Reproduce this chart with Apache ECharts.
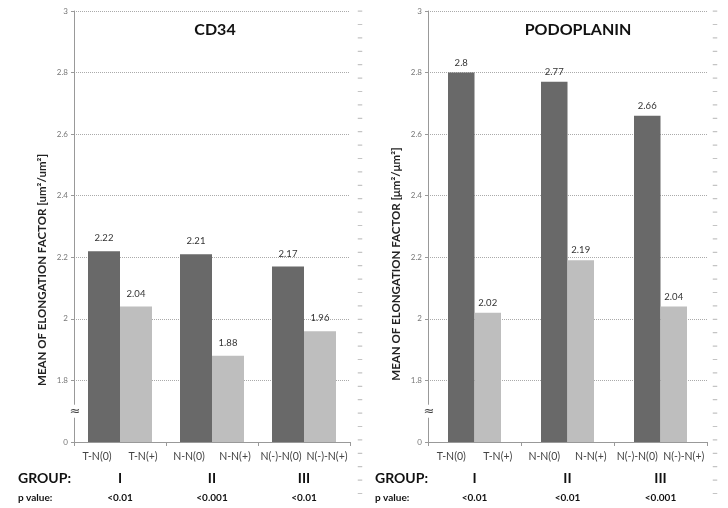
<!DOCTYPE html>
<html><head><meta charset="utf-8">
<script src="https://cdn.jsdelivr.net/npm/echarts@6/dist/echarts.min.js"></script>
<style>html,body{margin:0;padding:0;background:#fff}#c{width:728px;height:508px}</style>
</head><body><div id="c"></div>
<script>
// ---- data ----
const groups = ['I', 'II', 'III'];
const subLabels = ['T-N(0)', 'T-N(+)', 'N-N(0)', 'N-N(+)', 'N(-)-N(0)', 'N(-)-N(+)'];
const pValuesCD34 = ['<0.01', '<0.001', '<0.01'];
const pValuesPodo = ['<0.01', '<0.01', '<0.001'];
const cd34Zero = [2.22, 2.21, 2.17];   // N(0) bars
const cd34Plus = [2.04, 1.88, 1.96];   // N(+) bars
const podoZero = [2.8, 2.77, 2.66];
const podoPlus = [2.02, 2.19, 2.04];
const yMin = 1.6, yMax = 3, yStep = 0.2;   // broken axis: 1.6 is shown as "0"
const breakValue = 1.7;
const titles = ['CD34', 'PODOPLANIN'];
const yTitles = ['MEAN OF ELONGATION FACTOR [um\u00B2/um\u00B2]', 'MEAN OF ELONGATION FACTOR [\u03BCm\u00B2/\u03BCm\u00B2]'];

// ---- layout / style ----
const FONT = 'Lato, "Open Sans", sans-serif';
const DARK = '#696969', LIGHT = '#bebebe';
const panels = [
  { left: 74, width: 276, barWidth: 32, labelDist: 8, title: titles[0], yTitle: yTitles[0], p: pValuesCD34, zero: cd34Zero, plus: cd34Plus, titleX: 210, yTitleX: 42, yTitleY: 270, groupX: 18, dashX: 360 },
  { left: 428, width: 279, barWidth: 26.5, labelDist: 5, title: titles[1], yTitle: yTitles[1], p: pValuesPodo, zero: podoZero, plus: podoPlus, titleX: 573, yTitleX: 396, yTitleY: 264, groupX: 375, dashX: 715 }
];
const TOP = 11, HEIGHT = 431;

const chart = echarts.init(document.getElementById('c'), null, { renderer: 'canvas' });

const grid = [], xAxis = [], yAxis = [], series = [], title = [];
panels.forEach((pn, k) => {
  grid.push({ left: pn.left, top: TOP, width: pn.width, height: HEIGHT });
  grid.push({ left: pn.left, top: TOP, width: pn.width, height: HEIGHT });
  const gMain = k * 2, gSub = k * 2 + 1;
  xAxis.push({
    gridIndex: gMain, type: 'category', data: groups, position: 'bottom',
    axisLine: { lineStyle: { color: '#999', width: 1 } },
    axisTick: { show: true, length: 4, lineStyle: { color: '#999' } },
    axisLabel: {
      interval: 0, margin: 26, color: '#111',
      formatter: (v, i) => '{g|' + v + '}\n{p|' + pn.p[i] + '}',
      rich: {
        g: { fontFamily: FONT, fontSize: 14, fontWeight: 'bold', color: '#111', lineHeight: 20 },
        p: { fontFamily: FONT, fontSize: 10, fontWeight: 'bold', color: '#111', lineHeight: 20 }
      }
    }
  });
  xAxis.push({
    gridIndex: gSub, type: 'category', data: subLabels, position: 'bottom',
    axisLine: { show: false }, axisTick: { show: false },
    axisLabel: { interval: 0, margin: 9, fontFamily: FONT, fontSize: 10.5, color: '#444' }
  });
  yAxis.push({
    gridIndex: gMain, type: 'value', min: yMin, max: yMax, interval: yStep,
    axisLine: { show: true, lineStyle: { color: '#999' } },
    axisTick: { show: true, length: 3, lineStyle: { color: '#999' } },
    axisLabel: {
      fontFamily: FONT, fontSize: 8, color: '#777', margin: 6,
      formatter: v => Math.abs(v - yMin) < 1e-9 ? '0' : String(+v.toFixed(1))
    },
    splitLine: { show: true, lineStyle: { color: '#aaa', type: 'dotted', width: 1 } }
  });
  yAxis.push({ gridIndex: gSub, type: 'value', show: false });
  const xi = k * 2, yi = k * 2;
  const lbl = { show: true, position: 'top', distance: pn.labelDist, fontFamily: FONT, fontSize: 9.5, color: '#333' };
  series.push({ type: 'bar', xAxisIndex: xi, yAxisIndex: yi, data: pn.zero, barWidth: pn.barWidth, barGap: '0%', itemStyle: { color: DARK }, label: lbl, silent: true });
  series.push({ type: 'bar', xAxisIndex: xi, yAxisIndex: yi, data: pn.plus, barWidth: pn.barWidth, barGap: '0%', itemStyle: { color: LIGHT }, label: lbl, silent: true });
  title.push({ text: pn.title, left: pn.titleX, top: 17, textAlign: 'center', textStyle: { fontFamily: FONT, fontSize: 16, fontWeight: 'bold', color: '#111' } });
});

chart.setOption({ animation: false, backgroundColor: '#fff', title, grid, xAxis, yAxis, series });

// decorations: titles of y axes, GROUP / p value captions, axis-break symbol, dashed separators
const graphic = [];
panels.forEach((pn, k) => {
  const yBreak = chart.convertToPixel({ yAxisIndex: k * 2 }, breakValue);
  graphic.push({
    type: 'text', x: pn.left + 1, y: yBreak, z: 100,
    style: { text: '\u2248', fontFamily: '"DejaVu Sans", sans-serif', fontSize: 13, fill: '#444', align: 'center', verticalAlign: 'middle', backgroundColor: '#fff' }
  });
  graphic.push({
    type: 'text', x: pn.yTitleX, y: pn.yTitleY, rotation: Math.PI / 2,
    style: { text: pn.yTitle, fontFamily: FONT, fontSize: 11.5, fontWeight: 'bold', fill: '#222', align: 'center', verticalAlign: 'middle' }
  });
  graphic.push({
    type: 'text', x: pn.groupX, y: 478,
    style: { text: 'GROUP:', fontFamily: FONT, fontSize: 14, fontWeight: 'bold', fill: '#111', align: 'left', verticalAlign: 'middle' }
  });
  graphic.push({
    type: 'text', x: pn.groupX, y: 498,
    style: { text: 'p value:', fontFamily: FONT, fontSize: 10, fontWeight: 'bold', fill: '#111', align: 'left', verticalAlign: 'middle' }
  });
  graphic.push({
    type: 'line', shape: { x1: pn.dashX, y1: 10.5, x2: pn.dashX, y2: 498 },
    style: { stroke: '#c4c4c4', lineWidth: 4.5, lineDash: [1.2, 12.2] }
  });
});
chart.setOption({ graphic });
</script>
</body></html>
